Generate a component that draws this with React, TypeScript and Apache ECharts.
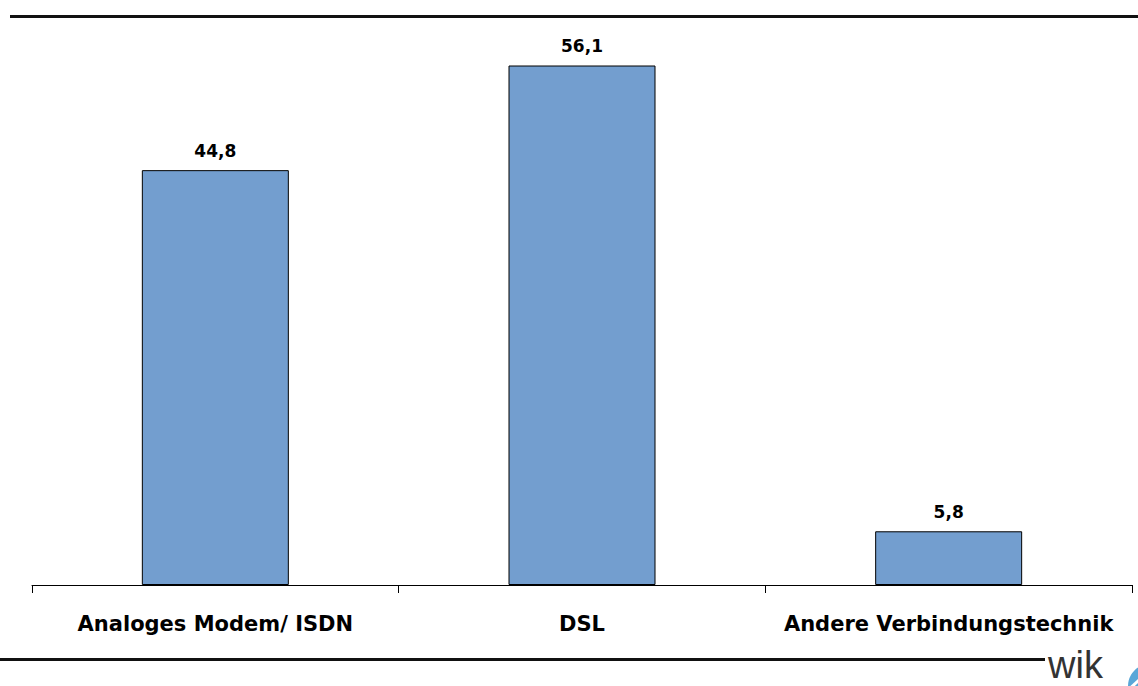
import React, { useEffect, useRef } from "react";
import * as echarts from "echarts";

const categories = ["Analoges Modem/ ISDN", "DSL", "Andere Verbindungstechnik"];
const values = [44.8, 56.1, 5.8];
const valueLabels = ["44,8", "56,1", "5,8"];

const FONT = "DejaVu Sans, Liberation Sans, Arial, sans-serif";

export default function App() {
  const ref = useRef<HTMLDivElement>(null);
  useEffect(() => {
    if (!ref.current) return;
    const chart = echarts.init(ref.current, null, { renderer: "svg" });
    chart.setOption({
      animation: false,
      backgroundColor: "#ffffff",
      grid: { left: 32, right: 6, top: 29.4, bottom: 101, containLabel: false },
      xAxis: {
        type: "category",
        data: categories,
        boundaryGap: true,
        axisLine: { show: true, lineStyle: { color: "#000", width: 1 } },
        axisTick: { show: true, length: 8, alignWithLabel: false, lineStyle: { color: "#000", width: 1 } },
        axisLabel: {
          interval: 0,
          margin: 28,
          color: "#000",
          fontFamily: FONT,
          fontWeight: "bold",
          fontSize: 21,
        },
      },
      yAxis: {
        type: "value",
        min: 0,
        max: 60,
        show: false,
        splitLine: { show: false },
      },
      series: [
        {
          type: "bar",
          data: values,
          barWidth: 147,
          itemStyle: { color: "#739ECF", borderColor: "#000", borderWidth: 1 },
          label: {
            show: true,
            position: "top",
            distance: 11,
            color: "#000",
            fontFamily: FONT,
            fontWeight: "bold",
            fontSize: 17,
            formatter: (p: any) => valueLabels[p.dataIndex],
          },
        },
      ],
      graphic: [
        {
          type: "line",
          shape: { x1: 10, y1: 16.5, x2: 1138, y2: 16.5 },
          style: { stroke: "#111", lineWidth: 3 },
        },
        {
          type: "line",
          shape: { x1: 0, y1: 659.5, x2: 1045, y2: 659.5 },
          style: { stroke: "#111", lineWidth: 3 },
        },
        {
          type: "circle",
          shape: { cx: 1150, cy: 686, r: 22 },
          style: { fill: "#5aa7d8" },
        },
        {
          type: "line",
          shape: { x1: 1126, y1: 692, x2: 1148, y2: 672 },
          style: { stroke: "#fff", lineWidth: 3 },
        },
        {
          type: "text",
          x: 1048,
          y: 684,
          style: {
            text: "wik",
            fill: "#333",
            font: "38px Liberation Sans, Arial, sans-serif",
            verticalAlign: "bottom",
          },
        },
      ],
    });
    return () => chart.dispose();
  }, []);
  return (
    <div
      ref={ref}
      style={{ position: "fixed", left: 0, top: 0, width: 1138, height: 686, background: "#fff" }}
    />
  );
}
